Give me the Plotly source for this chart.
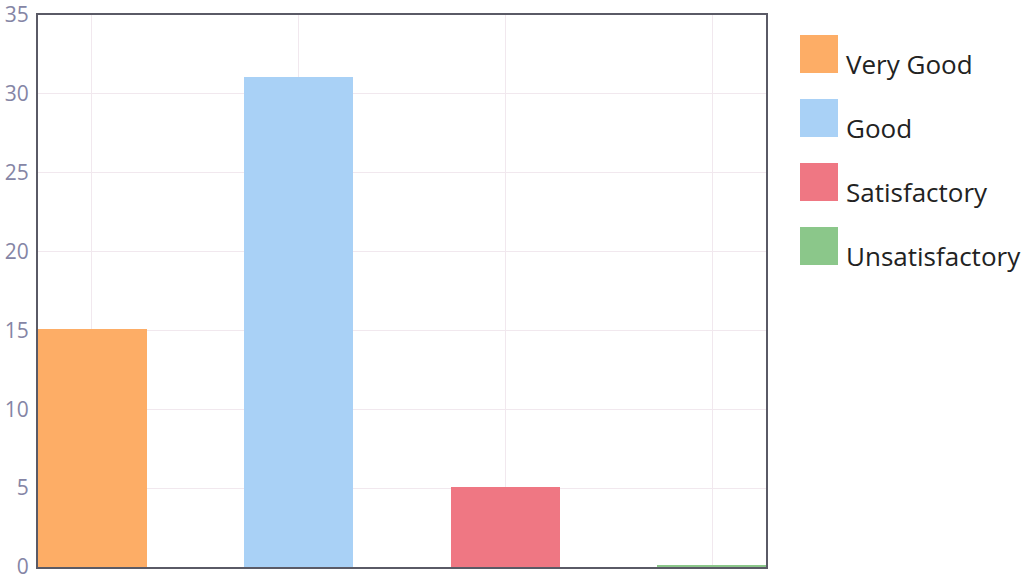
import plotly.graph_objects as go

categories = ["Very Good", "Good", "Satisfactory", "Unsatisfactory"]
values = [15.1, 31.1, 5.1, 0.15]
colors = ["#FDAD66", "#A9D1F6", "#EF7783", "#8BC78A"]
y_ticks = [0, 5, 10, 15, 20, 25, 30, 35]

W, H = 1030, 576
PL, PR, PT, PB = 38, 766, 15, 567  # plot area in window pixels

fig = go.Figure()
for i, (c, v, col) in enumerate(zip(categories, values, colors)):
    fig.add_trace(go.Bar(x=[i], y=[v], name=c, marker=dict(color=col, line=dict(width=0)),
                         width=0.53, showlegend=False))

# custom legend with large swatches
leg_x0, leg_y0, step, sw = 800, 35, 64, 38
pw, ph = PR - PL, PB - PT
for i, (c, col) in enumerate(zip(categories, colors)):
    y0 = leg_y0 + i * step
    fig.add_shape(type="rect", xref="paper", yref="paper",
                  x0=(leg_x0 - PL) / pw, x1=(leg_x0 + sw - PL) / pw,
                  y0=(PB - (y0 + sw)) / ph, y1=(PB - y0) / ph,
                  fillcolor=col, line=dict(width=0), layer="above")
    fig.add_annotation(xref="paper", yref="paper", x=(844 - PL) / pw, y=(PB - (y0 + 29)) / ph,
                       text=c, showarrow=False, xanchor="left", yanchor="middle",
                       font=dict(family="Open Sans", size=26, color="#222222"))

fig.update_layout(
    width=W, height=H,
    margin=dict(l=PL, r=W - PR, t=PT, b=H - PB),
    paper_bgcolor="white", plot_bgcolor="white",
    showlegend=False, bargap=0,
    font=dict(family="Open Sans"),
)
fig.update_xaxes(range=[-0.26, 3.26], showticklabels=False, tickvals=[0, 1, 2, 3],
                 showgrid=True, gridcolor="#F1E8EE", gridwidth=1, automargin=False,
                 showline=True, mirror=True, linecolor="#5A5A66", linewidth=2, zeroline=False, ticks="")
fig.update_yaxes(range=[0, 35], tickvals=y_ticks, showgrid=True, gridcolor="#F1E8EE", gridwidth=1,
                 showline=True, mirror=True, linecolor="#5A5A66", linewidth=2, zeroline=False,
                 automargin=False, ticklabeloverflow="allow",
                 tickfont=dict(family="Open Sans", size=21, color="#8585A5"), ticks="", ticklabelstandoff=3)

fig.write_html("out.html", config={"displayModeBar": False},
               post_script="document.body.style.margin='0';document.body.style.overflow='hidden';")
